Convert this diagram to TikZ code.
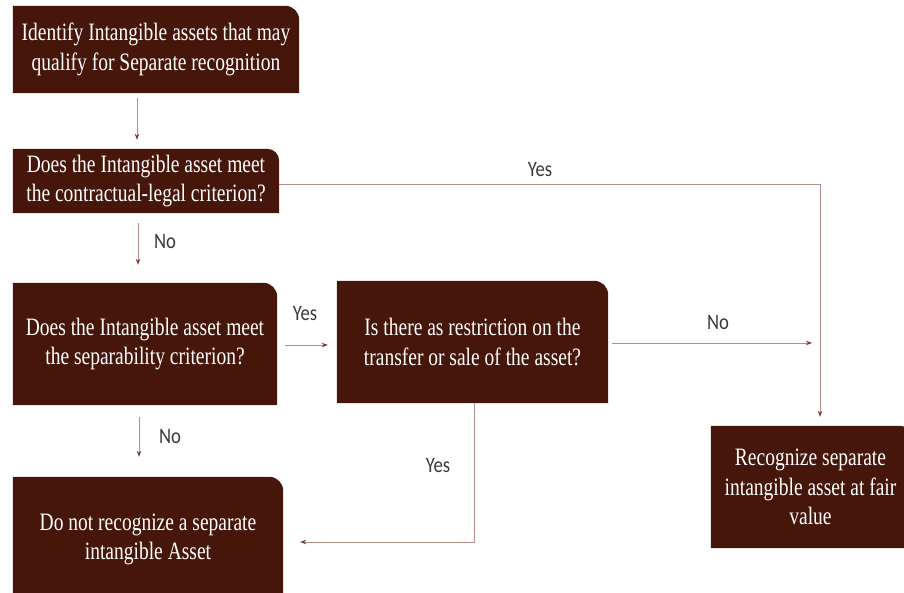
\documentclass[tikz,border=0pt]{standalone}
\usepackage{fontspec}
\setmainfont{Liberation Serif}[FakeStretch=0.78]
\newfontfamily\lblfont{Carlito}[FakeStretch=0.85]
\usetikzlibrary{arrows.meta,backgrounds}
\definecolor{boxc}{HTML}{46160A}
\definecolor{linec}{HTML}{B0908A}
\definecolor{arrowc}{HTML}{7A3A30}
\definecolor{lblc}{HTML}{3A3A3A}
\newcommand\ctabbox[2]{\fill[boxc] (#1.south west) -- (#1.north west) -- ([xshift=-#2]#1.north east) arc[start angle=90,end angle=0,radius=#2] -- (#1.south east) -- cycle;}
\begin{document}
\begin{tikzpicture}[x=1pt,y=-1pt,
  box/.style={inner sep=0pt, align=center, text=white, font=\fontsize{25}{29.5}\selectfont},
  lbl/.style={font=\lblfont\fontsize{22}{26}\selectfont, text=lblc, inner sep=0pt},
  conn/.style={draw=linec, line width=0.9pt, -{Stealth[length=6pt,width=4.5pt,color=arrowc]}}]
\useasboundingbox (0,0) rectangle (904,592);

\node[box, minimum width=286pt, minimum height=87pt] (b1) at (156,49.5)
  {Identify Intangible assets that may\\qualify for Separate recognition};
\node[box, minimum width=266pt, minimum height=64pt] (b2) at (146,181)
  {Does the Intangible asset meet\\the contractual-legal criterion?};
\node[box, minimum width=264pt, minimum height=122pt] (b3) at (145,344)
  {Does the Intangible asset meet\\the separability criterion?};
\node[box, minimum width=271pt, minimum height=122pt] (b4) at (472.5,342)
  {Is there as restriction on the\\transfer or sale of the asset?};
\node[box, minimum width=270pt, minimum height=125pt] (b5) at (148,539.5)
  {Do not recognize a separate\\intangible Asset};
\node[box, minimum width=199pt, minimum height=122pt] (b6) at (810.5,487)
  {Recognize separate\\intangible asset at fair\\value};

\begin{scope}[on background layer]
  \clip (0,0) rectangle (904,592);
  \ctabbox{b1}{14pt}
  \ctabbox{b2}{12pt}
  \ctabbox{b3}{14pt}
  \ctabbox{b4}{14pt}
  \ctabbox{b5}{14pt}
  \ctabbox{b6}{10pt}
\end{scope}

\coordinate (noend) at (812,343);

\draw[conn, shorten <=5pt, shorten >=9pt] (137,0 |- b1.south) -- (137,0 |- b2.north);
\draw[conn, shorten >=9pt] ([yshift=-3pt]b2.east) -| (820,0 |- b6.north);
\draw[conn, shorten <=10pt, shorten >=18pt] (138,0 |- b2.south) -- (138,0 |- b3.north);
\draw[conn, shorten <=8pt, shorten >=9pt] (b3.east |- 0,345) -- (b4.west |- 0,345);
\draw[conn, shorten <=4pt] (b4.east |- noend) -- (noend);
\draw[conn, shorten <=12pt, shorten >=20pt] (139,0 |- b3.south) -- (139,0 |- b5.north);
\draw[conn, shorten >=17pt] (474,0 |- b4.south) |- (b5.east |- 0,542);

\node[lbl] (l1) at (540,170) {Yes};
\node[lbl] (l2) at (165,242) {No};
\node[lbl] (l3) at (305,314) {Yes};
\node[lbl] (l4) at (718,323) {No};
\node[lbl] (l5) at (170,437) {No};
\node[lbl] (l6) at (438,466) {Yes};
\end{tikzpicture}
\end{document}
